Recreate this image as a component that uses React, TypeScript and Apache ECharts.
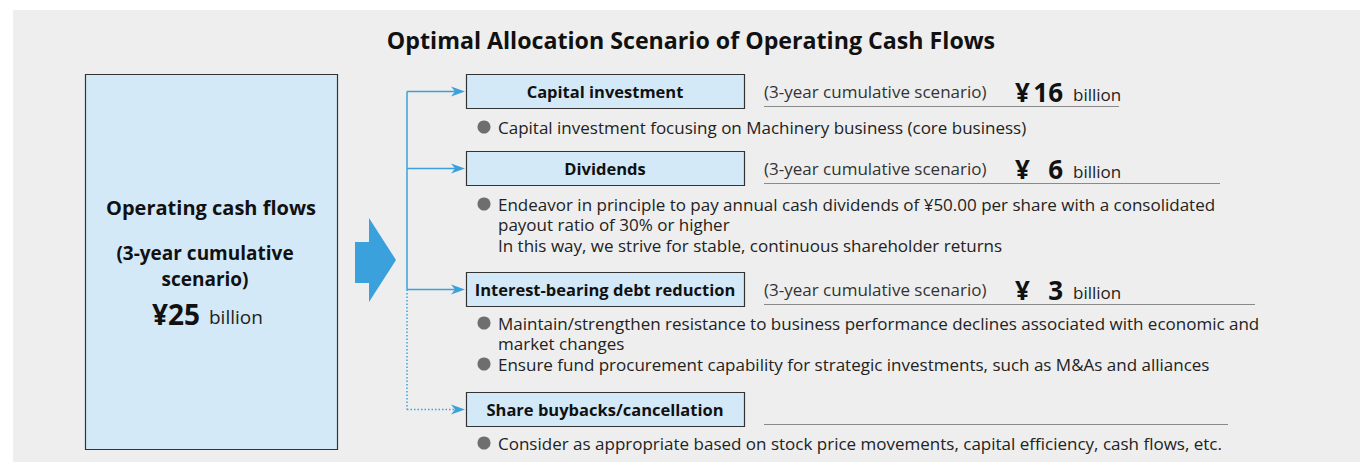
import React, { useEffect, useRef } from "react";
import * as echarts from "echarts";

const title = "Optimal Allocation Scenario of Operating Cash Flows";
const sourceLabel = "Operating cash flows";
const sourceNote = ["(3-year cumulative", "scenario)"];
const sourceAmount = 25;
const unit = "billion";
const categories = [
  "Capital investment",
  "Dividends",
  "Interest-bearing debt reduction",
  "Share buybacks/cancellation",
];
const amounts: (number | null)[] = [16, 6, 3, null];
const scenarioLabel = "(3-year cumulative scenario)";
const bullets: string[][][] = [
  [["Capital investment focusing on Machinery business (core business)"]],
  [
    [
      "Endeavor in principle to pay annual cash dividends of ¥50.00 per share with a consolidated",
      "payout ratio of 30% or higher",
      "In this way, we strive for stable, continuous shareholder returns",
    ],
  ],
  [
    [
      "Maintain/strengthen resistance to business performance declines associated with economic and",
      "market changes",
    ],
    ["Ensure fund procurement capability for strategic investments, such as M&As and alliances"],
  ],
  [["Consider as appropriate based on stock price movements, capital efficiency, cash flows, etc."]],
];
const dottedCategory = [false, false, false, true];

// layout
const FONT = "'Open Sans', 'Noto Sans', sans-serif";
const BLUE = "#3ba1dc";
const BOX_FILL = "#d3e9f8";
const boxTops = [74, 151, 272, 392];
const underlineEnds = [1119, 1220, 1255, 1228];
const bulletStarts = [127, 204, 323, 443];
const LINE_H = 20.5;

export default function App() {
  const ref = useRef<HTMLDivElement>(null);
  useEffect(() => {
    document.body.style.margin = "0";
    const chart = echarts.init(ref.current!, null, { renderer: "svg" });
    const els: any[] = [];
    // background
    els.push({ type: "rect", shape: { x: 13, y: 10, width: 1347, height: 452 }, style: { fill: "#eeeeee" } });
    // title
    els.push({
      type: "text", x: 691, y: 40,
      style: { text: title, font: `bold 23.2px ${FONT}`, fill: "#111", align: "center", verticalAlign: "middle" },
    });
    // source box
    els.push({ type: "rect", shape: { x: 85.5, y: 74.5, width: 252, height: 375 }, style: { fill: BOX_FILL, stroke: "#333", lineWidth: 1.2 } });
    els.push({
      type: "text", x: 211, y: 207,
      style: { text: sourceLabel, font: `bold 20px ${FONT}`, fill: "#111", align: "center", verticalAlign: "middle" },
    });
    sourceNote.forEach((t, i) => {
      els.push({
        type: "text", x: 205, y: 253 + i * 26,
        style: {
          text: t, font: `bold 19px ${FONT}`, lineHeight: 20,
          fill: "#111", align: "center", verticalAlign: "middle",
        },
      });
    });
    els.push({
      type: "text", x: 200, y: 314,
      style: { text: "¥" + sourceAmount, font: `bold 28px ${FONT}`, fill: "#111", align: "right", verticalAlign: "middle" },
    });
    els.push({
      type: "text", x: 209, y: 317,
      style: { text: unit, font: `19px ${FONT}`, fill: "#222", align: "left", verticalAlign: "middle" },
    });
    // big arrow
    els.push({
      type: "polygon",
      shape: { points: [[355, 242], [369, 242], [369, 218], [396, 260], [369, 302], [369, 283], [355, 283]] },
      style: { fill: BLUE },
    });
    // connector
    const ys = boxTops.map((t) => t + 17.5);
    els.push({ type: "line", shape: { x1: 407, y1: ys[0], x2: 407, y2: ys[2] }, style: { stroke: BLUE, lineWidth: 1.5 } });
    els.push({ type: "line", shape: { x1: 407, y1: ys[2], x2: 407, y2: ys[3] }, style: { stroke: BLUE, lineWidth: 1.5, lineDash: [1.5, 2] } });
    categories.forEach((cat, i) => {
      const y = ys[i];
      els.push({
        type: "line", shape: { x1: 407, y1: y, x2: 456, y2: y },
        style: { stroke: BLUE, lineWidth: 1.5, lineDash: dottedCategory[i] ? [1.5, 2] : null },
      });
      els.push({
        type: "polygon",
        shape: { points: [[465, y], [451, y - 5], [455, y], [451, y + 5]] },
        style: { fill: BLUE },
      });
      els.push({
        type: "rect", shape: { x: 466.5, y: boxTops[i] + 0.5, width: 278, height: 34 },
        style: { fill: BOX_FILL, stroke: "#333", lineWidth: 1.2 },
      });
      els.push({
        type: "text", x: 605, y: y,
        style: { text: cat, font: `bold 16.5px ${FONT}`, fill: "#111", align: "center", verticalAlign: "middle" },
      });
      // underline
      els.push({
        type: "line", shape: { x1: 764, y1: boxTops[i] + 32.5, x2: underlineEnds[i], y2: boxTops[i] + 32.5 },
        style: { stroke: "#8a8a8a", lineWidth: 1.2 },
      });
      const a = amounts[i];
      if (a !== null) {
        els.push({
          type: "text", x: 764, y: y,
          style: { text: scenarioLabel, font: `17px ${FONT}`, fill: "#333", align: "left", verticalAlign: "middle" },
        });
        els.push({
          type: "text", x: 1015, y: y,
          style: { text: "¥", font: `bold 26px ${FONT}`, fill: "#111", align: "left", verticalAlign: "middle" },
        });
        els.push({
          type: "text", x: 1063, y: y,
          style: { text: String(a), font: `bold 26px ${FONT}`, fill: "#111", align: "right", verticalAlign: "middle" },
        });
        els.push({
          type: "text", x: 1073, y: y + 3,
          style: { text: unit, font: `17px ${FONT}`, fill: "#222", align: "left", verticalAlign: "middle" },
        });
      }
      // bullets
      let by = bulletStarts[i];
      bullets[i].forEach((b) => {
        els.push({ type: "circle", shape: { cx: 484, cy: by, r: 6.5 }, style: { fill: "#6e6e6e" } });
        b.forEach((line, k) => {
          els.push({
            type: "text", x: 498, y: by + k * LINE_H,
            style: { text: line, font: `17px ${FONT}`, fill: "#222", align: "left", verticalAlign: "middle" },
          });
        });
        by += b.length * LINE_H;
      });
    });
    chart.setOption({ animation: false, graphic: { elements: els } });
    return () => chart.dispose();
  }, []);
  return <div ref={ref} style={{ width: 1360, height: 462 }} />;
}
